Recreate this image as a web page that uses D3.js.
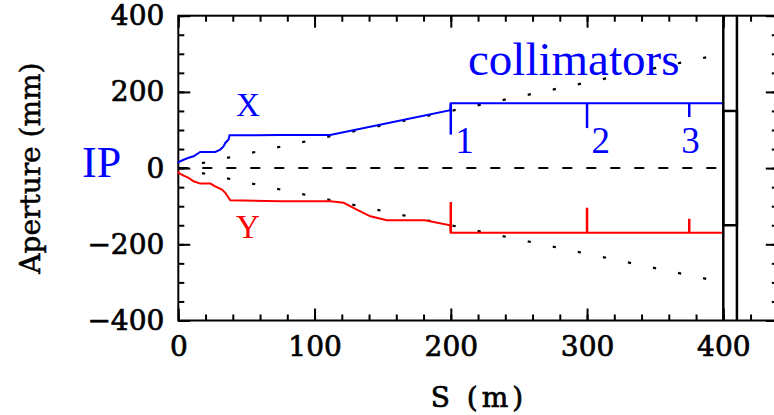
<!DOCTYPE html>
<html>
<head>
<meta charset="utf-8">
<script src="https://cdn.jsdelivr.net/npm/d3@7"></script>
<style>
body { margin: 0; background: #fff; }
</style>
</head>
<body>
<script>
// aperture along the beam line, s in m, aperture in mm
var xS   = [0, 0.2, 3.9, 7.6, 11.2, 16.1, 27.1, 30.8, 33.2, 34.5, 36.9, 37.6, 75, 111.5, 199.6, 200, 400];
var xApt = [13, 16, 22, 27, 31, 42.5, 42.5, 48.6, 57, 66, 75, 86, 87, 87, 152, 170, 170];

var yS   = [0, 0.2, 3.9, 7.6, 11.2, 16.1, 23.5, 27.1, 32, 34.5, 36.9, 38.1, 75, 111.5, 121.4, 131, 141, 153, 181, 199.6, 200, 400];
var yApt = [-8, -12.6, -19.7, -25.8, -34.6, -40.7, -40.7, -47.7, -56.4, -65, -78, -84.5, -87, -87, -91, -109, -126.5, -137, -137, -150, -170, -170];

// collimator positions and jaw openings
var colS     = [200, 300, 375];
var colX     = [88, 105, 134];
var colY     = [-89, -104, -133];
var colLabel = ["1", "2", "3"];
var colLabelS = [210, 310, 376];

// beam envelope (dotted)
var envS = [0, 400];
var envA = [0, 300];

// end box
var boxS = [400, 410];
var boxA = [-150, 150];

var xTicks = [0, 100, 200, 300, 400];
var yTicks = [-400, -200, 0, 200, 400];

var width = 774;
var height = 415;
var blue = "#0000ff";
var red = "#ff0000";

var x = d3.scaleLinear().domain([0, 440]).range([178.3, 777.8]);
var y = d3.scaleLinear().domain([-400, 400]).range([320.5, 15.7]);

var svg = d3.select("body")
			.append("svg")
			.attr("width", width)
			.attr("height", height);

var axisFont = "'DejaVu Serif', serif";
var serif = "'Liberation Serif', 'Times New Roman', serif";

// minor ticks
var minorX = d3.range(0, 441, 20);
var minorY = d3.range(-400, 401, 50);

function styleAxis(g) {
	g.select(".domain").remove();
	g.selectAll("line").attr("stroke", "#000").attr("stroke-width", 2);
	g.selectAll("text")
		.attr("fill", "#000")
		.attr("stroke", "#000")
		.attr("stroke-width", 0.7)
		.style("font-family", axisFont)
		.style("font-size", "28px");
}

svg.append("g").attr("transform", "translate(0," + y(-400) + ")")
	.call(d3.axisBottom(x).tickValues(minorX).tickSize(-6).tickFormat(""))
	.call(styleAxis);
svg.append("g").attr("transform", "translate(0," + y(-400) + ")")
	.call(d3.axisBottom(x).tickValues(xTicks).tickSizeInner(-12).tickSizeOuter(0).tickPadding(16).tickFormat(d3.format("d")))
	.call(styleAxis);
svg.append("g").attr("transform", "translate(0," + y(400) + ")")
	.call(d3.axisTop(x).tickValues(minorX).tickSize(-6).tickFormat(""))
	.call(styleAxis);
svg.append("g").attr("transform", "translate(0," + y(400) + ")")
	.call(d3.axisTop(x).tickValues(xTicks).tickSize(-12).tickFormat(""))
	.call(styleAxis);

svg.append("g").attr("transform", "translate(" + x(0) + ",0)")
	.call(d3.axisLeft(y).tickValues(minorY).tickSize(-6).tickFormat(""))
	.call(styleAxis);
svg.append("g").attr("transform", "translate(" + x(0) + ",0)")
	.call(d3.axisLeft(y).tickValues(yTicks).tickSizeInner(-12).tickSizeOuter(0).tickPadding(14).tickFormat(d3.format("d")))
	.call(styleAxis);
svg.append("g").attr("transform", "translate(" + x(440) + ",0)")
	.call(d3.axisRight(y).tickValues(minorY).tickSize(-6).tickFormat(""))
	.call(styleAxis);
svg.append("g").attr("transform", "translate(" + x(440) + ",0)")
	.call(d3.axisRight(y).tickValues(yTicks).tickSize(-12).tickFormat(""))
	.call(styleAxis);

// frame
svg.append("rect")
	.attr("x", x(0))
	.attr("y", y(400))
	.attr("width", x(440) - x(0))
	.attr("height", y(-400) - y(400))
	.attr("fill", "none")
	.attr("stroke", "#000")
	.attr("stroke-width", 2);

// zero line
svg.append("line")
	.attr("x1", x(0)).attr("x2", x(400))
	.attr("y1", y(0)).attr("y2", y(0))
	.attr("stroke", "#000")
	.attr("stroke-width", 2)
	.attr("stroke-dasharray", "10,14");

// dotted envelope
[1, -1].forEach(function(sg) {
	svg.append("line")
		.attr("x1", x(envS[0])).attr("y1", y(sg * envA[0]))
		.attr("x2", x(envS[1])).attr("y2", y(sg * envA[1]))
		.attr("stroke", "#000")
		.attr("stroke-width", 2.2)
		.attr("stroke-dasharray", "3.2,22.4")
		.attr("stroke-dashoffset", 1.4);
});

var line = d3.line()
	.x(function(d) { return x(d[0]) })
	.y(function(d) { return y(d[1]) });

svg.append("path")
	.attr("d", line(d3.zip(xS, xApt)))
	.attr("fill", "none")
	.attr("stroke", blue)
	.attr("stroke-width", 2);

svg.append("path")
	.attr("d", line(d3.zip(yS, yApt)))
	.attr("fill", "none")
	.attr("stroke", red)
	.attr("stroke-width", 2);

// collimator jaws
svg.selectAll(".jawx")
	.data(colS)
	.enter()
	.append("line")
	.attr("x1", function(d) { return x(d) })
	.attr("x2", function(d) { return x(d) })
	.attr("y1", y(170))
	.attr("y2", function(d, i) { return y(colX[i]) })
	.attr("stroke", blue)
	.attr("stroke-width", 2.5);

svg.selectAll(".jawy")
	.data(colS)
	.enter()
	.append("line")
	.attr("x1", function(d) { return x(d) })
	.attr("x2", function(d) { return x(d) })
	.attr("y1", y(-170))
	.attr("y2", function(d, i) { return y(colY[i]) })
	.attr("stroke", red)
	.attr("stroke-width", 2.5);

svg.selectAll(".collabel")
	.data(colLabel)
	.enter()
	.append("text")
	.attr("x", function(d, i) { return x(colLabelS[i]) })
	.attr("y", y(40))
	.attr("text-anchor", "middle")
	.attr("fill", blue)
	.style("font-family", serif)
	.style("font-size", "37px")
	.text(function(d) { return d });

// end box
[boxS[0], boxS[1]].forEach(function(s) {
	svg.append("line")
		.attr("x1", x(s)).attr("x2", x(s))
		.attr("y1", y(400)).attr("y2", y(-400))
		.attr("stroke", "#000")
		.attr("stroke-width", 2.5);
});
svg.append("rect")
	.attr("x", x(boxS[0]))
	.attr("y", y(boxA[1]))
	.attr("width", x(boxS[1]) - x(boxS[0]))
	.attr("height", y(boxA[0]) - y(boxA[1]))
	.attr("fill", "none")
	.attr("stroke", "#000")
	.attr("stroke-width", 2.5);

// labels
svg.append("text")
	.attr("x", 468)
	.attr("y", 75)
	.attr("fill", blue)
	.style("font-family", serif)
	.style("font-size", "47px")
	.text("collimators");

svg.append("text")
	.attr("x", 248)
	.attr("y", 116)
	.attr("text-anchor", "middle")
	.attr("fill", blue)
	.style("font-family", serif)
	.style("font-size", "33px")
	.text("X");

svg.append("text")
	.attr("x", 248)
	.attr("y", 238)
	.attr("text-anchor", "middle")
	.attr("fill", red)
	.style("font-family", serif)
	.style("font-size", "33px")
	.text("Y");

svg.append("text")
	.attr("x", 82)
	.attr("y", 177)
	.attr("fill", blue)
	.style("font-family", serif)
	.style("font-size", "44px")
	.text("IP");

svg.append("text")
	.attr("x", 479)
	.attr("y", 407)
	.attr("text-anchor", "middle")
	.attr("fill", "#000")
	.attr("stroke", "#000")
	.attr("stroke-width", 0.7)
	.style("font-family", axisFont)
	.style("font-size", "28px")
	.style("letter-spacing", "4px")
	.text("S (m)");

svg.append("text")
	.attr("transform", "translate(40," + y(0) + ") rotate(-90)")
	.attr("text-anchor", "middle")
	.attr("fill", "#000")
	.attr("stroke", "#000")
	.attr("stroke-width", 0.5)
	.style("font-family", axisFont)
	.style("font-size", "28px")
	.text("Aperture (mm)");
</script>
</body>
</html>
